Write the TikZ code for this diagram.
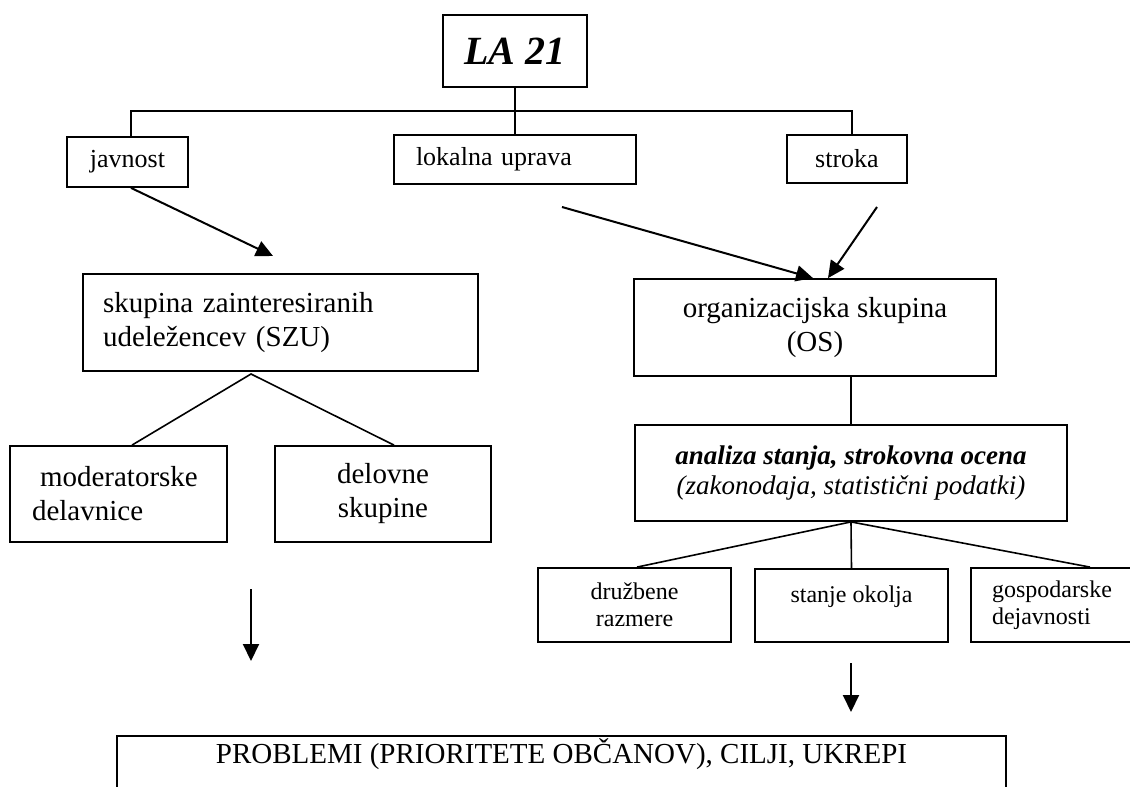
\documentclass[tikz,border=0pt]{standalone}
\usepackage{fontspec}
\setmainfont{Liberation Serif}
\usetikzlibrary{arrows.meta,calc}

\newcommand{\fla}{\fontsize{40}{46}\selectfont\bfseries\itshape}
\newcommand{\fbig}{\fontsize{29}{34}\selectfont}
\newcommand{\fmid}{\fontsize{26}{31}\selectfont}
\newcommand{\fana}{\fontsize{27}{30}\selectfont}
\newcommand{\fsml}{\fontsize{24}{27}\selectfont}

\begin{document}
\begin{tikzpicture}[x=1pt, y=-1pt,
    box/.style={draw, rectangle, line width=1.8pt, inner sep=0pt, align=center},
    link/.style={line width=1.6pt},
    arr/.style={line width=2pt, -{Triangle[length=17pt,width=16pt]}}]
    \useasboundingbox (0,0) rectangle (1130,787);

    % 上段
    \node[box, minimum width=144pt, minimum height=72pt, font=\fla] (la) at (515,51) {LA 21};
    \node[box, minimum width=121pt, minimum height=50pt, font=\fmid] (javnost) at (127.5,162) {javnost};
    \node[box, text width=198pt, inner xsep=22pt, minimum height=49pt, align=left, font=\fmid] (lokalna) at (515,159.5) {lokalna uprava};
    \node[box, minimum width=120pt, minimum height=48pt, font=\fmid] (stroka) at (847,159) {stroka};

    % 中段
    \node[box, text width=355pt, inner xsep=20pt, minimum height=97pt, align=left, font=\fbig] (szu) at (280.5,322.5) {skupina zainteresiranih\\udeležencev (SZU)};
    \node[box, minimum width=362pt, minimum height=97pt, font=\fbig] (os) at (815,327.5) {organizacijska skupina\\(OS)};
    \node[box, text width=173pt, inner xsep=22pt, minimum height=96pt, align=left, font=\fbig] (moder) at (118.5,494) {\hspace*{8pt}moderatorske\\delavnice};
    \node[box, minimum width=216pt, minimum height=96pt, font=\fbig] (delovne) at (383,494) {delovne\\skupine};
    \node[box, minimum width=432pt, minimum height=96pt, font=\fana\itshape] (analiza) at (851,473) {{\bfseries analiza stanja, strokovna ocena}\\(zakonodaja, statistični podatki)};

    % 下段
    \node[box, minimum width=193pt, minimum height=74pt, font=\fsml] (druzbene) at (634.5,605) {družbene\\razmere};
    \node[box, anchor=north, minimum width=193pt, text height=34pt, text depth=39pt, font=\fsml] (stanje) at (851.5,568) {stanje okolja};
    \node[box, text width=151pt, inner xsep=21pt, minimum height=74pt, align=left, font=\fsml] (gosp) at (1067.5,605) {gospodarske\\dejavnosti};
    \node[box, anchor=north, minimum width=889pt, text height=28pt, text depth=45pt, font=\fbig] (probl) at (561.5,735) {PROBLEMI (PRIORITETE OBČANOV), CILJI, UKREPI};

    % 補助点
    \coordinate (busL) at (131,111);
    \coordinate (busR) at (852,111);
    \coordinate (apex) at (251,374);
    \coordinate (lokStart) at (562,207);
    \coordinate (strStart) at (877,207);
    \coordinate (leftTop) at (251,589);
    \coordinate (leftTip) at (251,661);
    \coordinate (rightTop) at (851,663);
    \coordinate (rightTip) at (851,712);

    % 線
    \draw[link] (la.south) -- (lokalna.north);
    \draw[link] (busL |- javnost.north) -- (busL) -- (busR) -- (busR |- stroka.north);
    \draw[link] ($(moder.north)+(13.5,0)$) -- (apex) -- ($(delovne.north)+(11,0)$);
    \draw[link] (analiza.north |- os.south) -- (analiza.north);
    \draw[link] (analiza.south) -- ($(druzbene.north)+(2.5,0)$);
    \draw[link] (analiza.south) -- (stanje.north);
    \draw[link] (analiza.south) -- ($(gosp.north)+(22.5,0)$);

    % 矢印
    \draw[arr] (busL |- javnost.south) -- (273,256);
    \draw[arr] (lokStart) -- ($(os.north)+(-2,0)$);
    \draw[arr] (strStart) -- ($(os.north)+(13,0)$);
    \draw[arr] (leftTop) -- (leftTip);
    \draw[arr] (rightTop) -- (rightTip);
\end{tikzpicture}
\end{document}
